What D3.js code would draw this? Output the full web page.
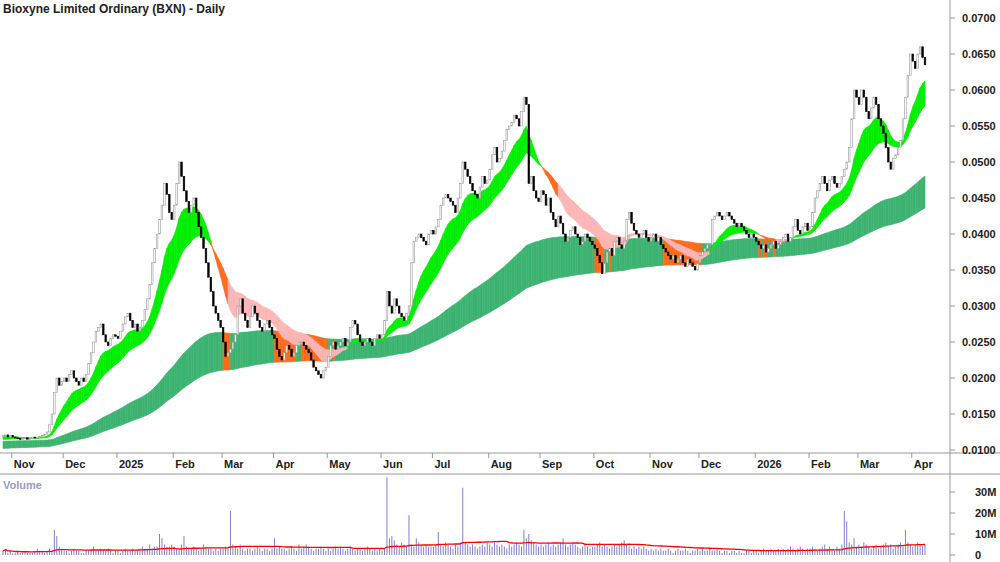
<!DOCTYPE html>
<html><head><meta charset="utf-8">
<script src="https://cdn.jsdelivr.net/npm/d3@7/dist/d3.min.js"></script>
<style>body{margin:0;background:#fff}svg{font-family:Arial,"Liberation Sans",sans-serif}</style>
</head><body><svg id="c" width="1000" height="562"></svg>
<script>
// closes in units of 0.0001, per month
const closeOct24=[120,121,118,120];
const closeNov24=[118,117,116,115,116,117,115,116,118,117,118,119,120,122,125,135,150,180,200,190,195];
const closeDec24=[200,195,205,210,200,195,190,200,195,205,220,235,250,265,270,275,260,250,245,255,260,258];
const closeJan25=[255,265,275,285,290,280,270,275,265,270,280,295,310,330,360,380,400,420,440,470,455,430,420];
const closeFeb25=[440,470,500,480,460,445,430,440,450,430,410,395,380,360,340,320,300,290,280,270];
const closeMar25=[250,230,235,240,250,260,300,310,290,280,270,285,300,290,280,270,265,275,280,270,260];
const closeApr25=[255,240,230,225,235,245,240,230,235,245,250,250,245,240,235,225,215,210,205,200,210,215];
const closeMay25=[230,245,250,240,245,250,255,245,250,270,280,275,260,250,245,250,255,250,245,255,260,255];
const closeJun25=[260,280,320,300,290,310,300,290,285,280,290,300,360,390,395,400,395,390,385,400,405];
const closeJul25=[400,410,420,440,450,455,450,445,440,430,450,470,500,490,480,470,460,455,450,465,480,470,475];
const closeAug25=[490,510,520,500,505,515,530,545,550,555,565,560,550,570,590,580,470,480,460,450,445];
const closeSep25=[460,455,440,450,430,420,410,425,415,400,390,395,405,410,400,395,385,390,400,395,390,385];
const closeOct25=[380,370,360,345,360,375,380,370,390,395,385,380,390,420,430,415,405,400,395,400,405,395,390];
const closeNov25=[395,400,390,395,385,380,375,370,365,370,360,365,370,360,355,365,360,355,350,360];
const closeDec25=[370,375,380,385,385,420,425,430,425,420,425,430,425,420,415,410,415,410,405,400,395,400,395];
const closeJan26=[390,385,380,385,375,380,385,390,380,385,390,395,400,390,395,410,420,405,400,410,415,405];
const closeFeb26=[410,430,450,460,470,480,470,460,475,480,470,465,470,480,490,500,520,560,600,590];
const closeMar26=[580,600,590,570,560,575,590,580,560,550,540,520,500,490,505,510,520,530,560,590,620,650];
const closeApr26=[640,630,650,660,645,635];
// volume in millions
const volOct24=[2,3,1,2];
const volNov24=[1,1,2,1,1,2,1,1,1,2,3,2,2,1,2,3,2,12,9,4,3];
const volDec24=[2,2,1,2,3,2,2,1,1,2,2,3,4,2,2,3,2,2,3,2,1,2];
const volJan25=[2,1,2,3,2,2,3,2,2,3,4,3,3,5,3,4,4,10,8,5,4,4,5];
const volFeb25=[4,3,3,5,9,4,3,3,4,3,2,3,5,4,3,3,2,3,2,3];
const volMar25=[3,4,3,21,5,4,3,5,3,2,3,3,2,3,4,3,2,3,3,2,3];
const volApr25=[8,3,4,3,3,2,3,4,3,2,5,3,4,5,4,3,2,3,3,4,3,2];
const volMay25=[3,2,3,4,3,4,3,2,3,4,3,2,3,3,2,3,4,3,2,3,2,3];
const volJun25=[2,3,37,8,9,7,5,4,6,5,4,19,5,4,8,6,5,4,5,4,4];
const volJul25=[4,5,11,5,4,6,5,4,3,5,4,6,32,6,5,4,5,4,3,4,5,4,6];
const volAug25=[5,4,6,5,4,5,4,3,5,4,5,6,5,4,12,8,10,7,6,5,4];
const volSep25=[5,4,5,6,4,5,4,5,6,8,5,4,5,6,5,4,3,4,5,4,3,4];
const volOct25=[4,5,6,4,5,4,3,4,5,4,5,6,7,5,4,3,4,3,4,3,4,3,2];
const volNov25=[3,2,3,2,3,2,2,3,2,1,2,3,2,2,3,2,1,2,2,3];
const volDec25=[2,3,2,2,3,2,2,3,2,1,2,2,1,2,2,1,2,1,1,2,2,1,2];
const volJan26=[2,1,2,3,2,2,3,2,2,3,2,3,2,3,4,3,2,3,4,3,2,3];
const volFeb26=[3,4,3,2,3,4,5,3,4,3,2,4,3,5,21,16,6,5,8,4];
const volMar26=[5,4,6,5,4,3,4,5,3,4,5,6,4,5,3,4,5,6,4,12,6,5];
const volApr26=[4,5,6,5,4,5];
const priceTicks=[0.01,0.015,0.02,0.025,0.03,0.035,0.04,0.045,0.05,0.055,0.06,0.065,0.07];
const volTicks=[0,10,20,30];
const monthLabels=["Nov","Dec","2025","Feb","Mar","Apr","May","Jun","Jul","Aug","Sep","Oct","Nov","Dec","2026","Feb","Mar","Apr"];
const title="Bioxyne Limited Ordinary (BXN) - Daily";

const closes=[].concat(closeOct24,closeNov24,closeDec24,closeJan25,closeFeb25,closeMar25,closeApr25,closeMay25,closeJun25,closeJul25,closeAug25,closeSep25,closeOct25,closeNov25,closeDec25,closeJan26,closeFeb26,closeMar26,closeApr26).map(v=>v/10000);
const vols=[].concat(volOct24,volNov24,volDec24,volJan25,volFeb25,volMar25,volApr25,volMay25,volJun25,volJul25,volAug25,volSep25,volOct25,volNov25,volDec25,volJan26,volFeb26,volMar26,volApr26);
const dates=[];let d=new Date(2024,9,28);
while(dates.length<closes.length){const w=d.getDay();if(w>0&&w<6)dates.push(new Date(d));d=new Date(d.getFullYear(),d.getMonth(),d.getDate()+1);}
const N=closes.length;
const data=closes.map((c,i)=>({i,date:dates[i],o:i?closes[i-1]:c,c,v:vols[i]||0}));

function ema(p,seed){const k=2/(p+1);let e=seed;return closes.map(c=>e=c*k+e*(1-k));}
const sA=ema(13,0.0118),sB=ema(28,0.0114),lA=ema(120,0.0112),lB=ema(210,0.0102);

const svg=d3.select("#c");
const x=d3.scaleLinear().domain([0,N-1]).range([3,925]);
const y=d3.scaleLinear().domain([0.01,0.07]).range([450,18]);
const yv=d3.scaleLinear().domain([0,30]).range([555,492]);

const longCol=i=>(closes[i]<(lA[i]*0.6+lB[i]*0.4))?"#ff6a1f":"#3cb371";
const shortCol=[];let lastCross=-100;
for(let i=0;i<N;i++){
  if(sA[i]>=sB[i]){shortCol.push("#00ee00");}
  else{ if(i>0&&sA[i-1]>=sB[i-1])lastCross=i; shortCol.push(i-lastCross<7?"#ff6a1f":"#ffb6b6");}
}
function seg(a,b,col){
  for(let i=1;i<N;i++){
    const p=`M${x(i-1)},${y(a[i-1])}L${x(i)},${y(a[i])}L${x(i)},${y(b[i])}L${x(i-1)},${y(b[i-1])}Z`;
    svg.append("path").attr("d",p).attr("fill",col(i)).attr("stroke",col(i)).attr("stroke-width",0.6);
  }
}
seg(lA,lB,longCol);
seg(sA,sB,i=>shortCol[i]);

const cw=1.6;
data.forEach(e=>{
  const up=e.c>=e.o;const top=y(Math.max(e.o,e.c)),bot=y(Math.min(e.o,e.c));
  svg.append("rect").attr("x",x(e.i)-cw/2).attr("y",top).attr("width",cw).attr("height",Math.max(1,bot-top))
    .attr("fill",up?"#fff":"#000").attr("stroke",up?"#999":"#000").attr("stroke-width",0.6);
});

svg.append("line").attr("x1",950).attr("x2",950).attr("y1",0).attr("y2",562).attr("stroke","#999");
svg.append("line").attr("x1",0).attr("x2",1000).attr("y1",453).attr("y2",453).attr("stroke","#999");
svg.append("line").attr("x1",0).attr("x2",1000).attr("y1",474).attr("y2",474).attr("stroke","#999");

priceTicks.forEach(t=>{
  svg.append("line").attr("x1",950).attr("x2",955).attr("y1",y(t)).attr("y2",y(t)).attr("stroke","#999");
  svg.append("text").attr("x",962).attr("y",y(t)+4).attr("font-size",11).attr("font-weight","bold").attr("fill","#222").text(t.toFixed(4));
});
const monthStarts=[];
for(let i=1;i<N;i++){if(dates[i].getMonth()!==dates[i-1].getMonth())monthStarts.push(i);}
monthStarts.forEach((m,k)=>{
  svg.append("line").attr("x1",x(m)-1).attr("x2",x(m)-1).attr("y1",453).attr("y2",458).attr("stroke","#999");
  svg.append("text").attr("x",x(m)+1).attr("y",468).attr("font-size",11).attr("font-weight","bold").attr("fill","#222").text(monthLabels[k]);
});

svg.append("text").attr("x",3).attr("y",489).attr("font-size",11).attr("font-weight","bold").attr("fill","#9a9ad0").text("Volume");
data.forEach(e=>{
  svg.append("line").attr("x1",x(e.i)).attr("x2",x(e.i)).attr("y1",yv(0)).attr("y2",yv(e.v)).attr("stroke","#8080cc").attr("stroke-width",1);
});
const vma=data.map((e,i)=>d3.mean(vols.slice(Math.max(0,i-49),i+1)));
svg.append("path").attr("d",d3.line().x((v,i)=>x(i)).y(v=>yv(v))(vma)).attr("fill","none").attr("stroke","#ff0000").attr("stroke-width",1.3);
volTicks.forEach(t=>{
  svg.append("line").attr("x1",950).attr("x2",955).attr("y1",yv(t)).attr("y2",yv(t)).attr("stroke","#999");
  svg.append("text").attr("x",975).attr("y",yv(t)+4).attr("font-size",11).attr("font-weight","bold").attr("fill","#222").text(t?t+"M":"0");
});

svg.append("text").attr("x",3).attr("y",13).attr("font-size",12).attr("font-weight","bold").attr("fill","#222").text(title);
</script></body></html>
